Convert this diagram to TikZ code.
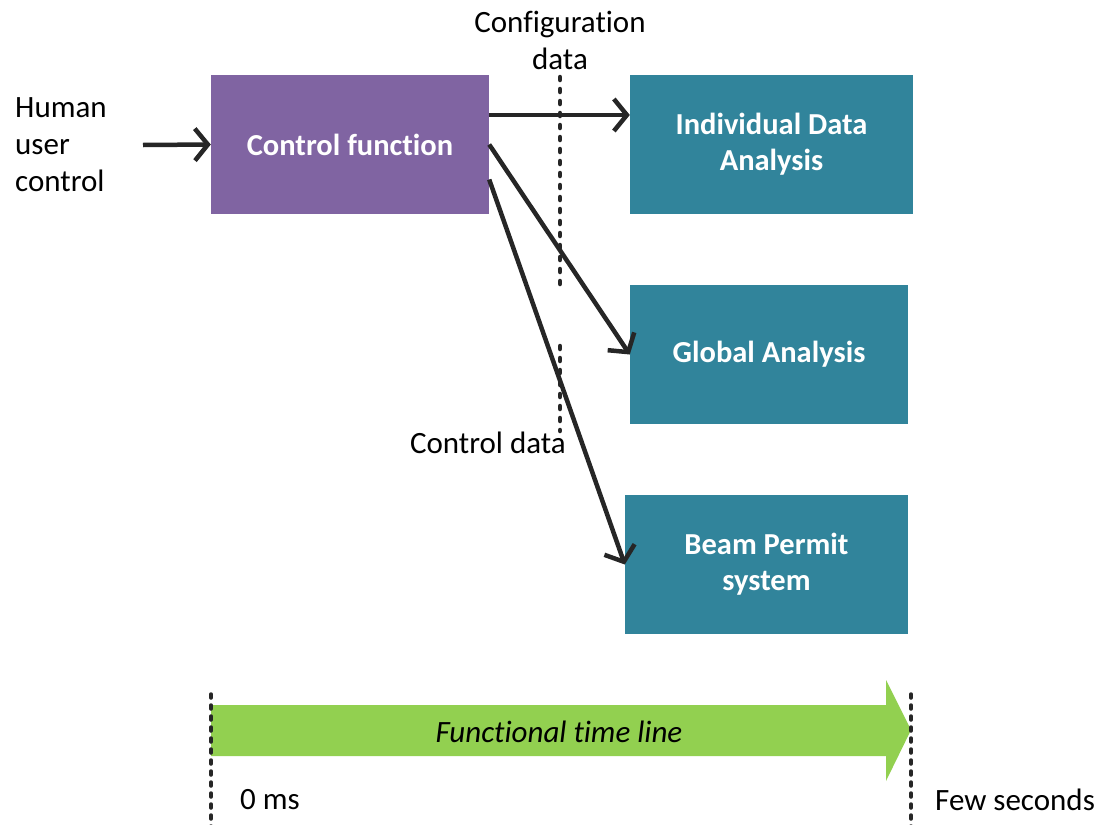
\documentclass[tikz,border=0pt]{standalone}
\usepackage{fontspec}
\setmainfont{Carlito}[Ligatures={NoCommon}]
\usetikzlibrary{arrows.meta}
\definecolor{cfpurple}{HTML}{8064A2}
\definecolor{boxteal}{HTML}{31849B}
\definecolor{tlgreen}{HTML}{92D050}
\definecolor{ink}{HTML}{262626}
\tikzset{
  txt/.style={font=\fontsize{31}{37}\selectfont, inner sep=0pt, text=black},
  fbox/.style={font=\fontsize{30.5}{36}\selectfont\bfseries, text=white, inner sep=0pt,
    minimum height=139pt, align=center},
  conn/.style={draw=ink, line width=4.5pt, -{Straight Barb[length=13pt,width=32pt]}},
  dotline/.style={draw=ink, line width=4.5pt, line cap=round, dash pattern=on 3pt off 9pt},
  tickline/.style={draw=ink, line width=3.5pt, line cap=round, dash pattern=on 4pt off 7pt},
}
\begin{document}
\begin{tikzpicture}[x=1pt,y=-1pt]
\useasboundingbox (0,0) rectangle (1101,825);
% boxes
\node[fbox, fill=cfpurple, minimum width=278pt] (cf) at (350,144.5) {Control function};
\node[fbox, fill=boxteal, minimum width=283pt] (ida) at (771.5,144.5) {Individual Data\\Analysis};
\node[fbox, fill=boxteal, minimum width=278pt] (ga) at (769,354.5) {Global Analysis};
\node[fbox, fill=boxteal, minimum width=283pt] (bp) at (766.5,564.5) {Beam Permit\\system};
% labels
\node[txt, align=left, anchor=west] (hu) at (15,145) {Human\\user\\control};
\node[txt, align=center] (conf) at (560,40) {Configuration\\data};
\node[txt, anchor=east] (ctl) at (566,443) {Control data};
% dotted separators
\coordinate (d1a) at (560,77);
\coordinate (d1b) at (560,285);
\coordinate (d2a) at (560,346);
\coordinate (d2b) at (560,431);
\draw[dotline] (d1a) -- (d1b);
\draw[dotline] (d2a) -- (d2b);
% connectors
\coordinate (hstart) at (143,145);
\draw[conn] (hstart) -- (cf.west);
\draw[conn] ([yshift=29.5pt]cf.east) -- ([yshift=29.5pt]ida.west);
\draw[conn] (cf.east) -- (ga.west);
\draw[conn] ([yshift=-35pt]cf.east) -- (bp.west);
% time line
\fill[tlgreen] (211,705) -- (886,705) -- (886,680) -- (911,730) -- (886,781) -- (886,756) -- (211,756) -- cycle;
\node[txt, font=\fontsize{31}{36}\selectfont\itshape] (ftl) at (559,732) {Functional time line};
\coordinate (t0a) at (211,694);
\coordinate (t0b) at (211,830);
\coordinate (t1a) at (911,694);
\coordinate (t1b) at (911,830);
\draw[tickline] (t0a) -- (t0b);
\draw[tickline] (t1a) -- (t1b);
\node[txt, anchor=west] (zero) at (240,800) {0 ms};
\node[txt, anchor=west] (few) at (935,800) {Few seconds};
\end{tikzpicture}
\end{document}
